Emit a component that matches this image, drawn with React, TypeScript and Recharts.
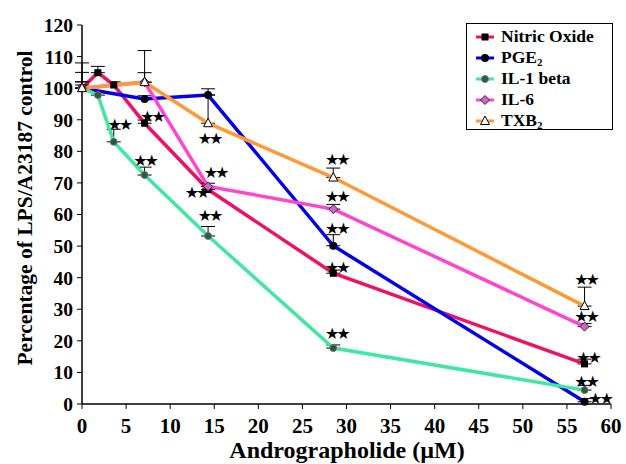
import { LineChart, Line, XAxis, YAxis, ErrorBar } from "recharts";

const DOSES = [0, 1.8, 3.6, 7.1, 14.3, 28.5, 57];

// error bars are drawn upward only: [minus, plus]
const NITRIC_OXIDE = [100, 104.9, 101, 88.9, 67.9, 41.4, 12.7];
const NITRIC_OXIDE_ERR = [[0, 5], [0, 2], [0, 1], [0, 1], [0, 1], [0, 1], [0, 1.5]];
const NITRIC_OXIDE_SIG = [0, 0, 0, 1, 1, 1, 1];

const PGE2 = [100, null, null, 96.6, 97.8, 50.1, 0.7];
const PGE2_ERR = [[0, 1], null, null, [0, 1], [0, 2], [0, 3.5], [0, 1]];
const PGE2_SIG = [0, 0, 0, 0, 0, 1, 1];

const IL1_BETA = [100, 97.8, 83, 72.5, 53.2, 17.7, 4.4];
const IL1_BETA_ERR = [[0, 2], [0, 1], [0, 4], [0, 2.5], [0, 3], [0, 1], [0, 1.5]];
const IL1_BETA_SIG = [0, 0, 1, 1, 1, 1, 1];

const IL6 = [100, null, null, 101.9, 68.9, 61.7, 24.5];
const IL6_ERR = [[0, 2], null, null, [0, 3], [0, 1], [0, 1.5], [0, 1]];
const IL6_SIG = [0, 0, 0, 0, 1, 1, 1];

const TXB2 = [100, null, null, 101.9, 88.9, 71.7, 31];
const TXB2_ERR = [[0, 8], null, null, [0, 10], [0, 9], [0, 3], [0, 6]];
const TXB2_SIG = [0, 0, 0, 0, 1, 1, 1];

const X_TICKS = [0, 5, 10, 15, 20, 25, 30, 35, 40, 45, 50, 55, 60];
const Y_TICKS = [0, 10, 20, 30, 40, 50, 60, 70, 80, 90, 100, 110, 120];

const SERIF = "'Liberation Serif', 'Times New Roman', serif";

type Series = {
  key: string;
  name: string;
  sub?: string;
  color: string;
  marker: string;
  values: (number | null)[];
  err: any[];
  sig: number[];
};

const SERIES: Series[] = [
  { key: "no", name: "Nitric Oxide", color: "#ee1166", marker: "square", values: NITRIC_OXIDE, err: NITRIC_OXIDE_ERR, sig: NITRIC_OXIDE_SIG },
  { key: "pge2", name: "PGE", sub: "2", color: "#0000ee", marker: "circle", values: PGE2, err: PGE2_ERR, sig: PGE2_SIG },
  { key: "il1", name: "IL-1 beta", color: "#3ee8a2", marker: "dot", values: IL1_BETA, err: IL1_BETA_ERR, sig: IL1_BETA_SIG },
  { key: "il6", name: "IL-6", color: "#ff44d0", marker: "diamond", values: IL6, err: IL6_ERR, sig: IL6_SIG },
  { key: "txb2", name: "TXB", sub: "2", color: "#ff9933", marker: "triangle", values: TXB2, err: TXB2_ERR, sig: TXB2_SIG },
];

const rows = DOSES.map((dose, i) => {
  const row: Record<string, any> = { dose };
  SERIES.forEach((s) => {
    row[s.key] = s.values[i];
    row[s.key + "Err"] = s.err[i];
  });
  return row;
});

// where the ★★ sits relative to its point
const STAR_NUDGE: Record<string, [number, number]> = {
  "no-3": [7, -7],
  "no-4": [-12, 3],
  "no-5": [3, -6],
  "no-6": [3, -6],
  "pge2-5": [3, -17],
  "pge2-6": [15, -3],
  "il1-2": [5, -17],
  "il1-3": [0, -15],
  "il1-4": [1, -21],
  "il1-5": [3, -15],
  "il1-6": [1, -9],
  "il6-4": [7, -14],
  "il6-5": [3, -13],
  "il6-6": [1, -10],
  "txb2-4": [1, 15],
  "txb2-5": [3, -18],
  "txb2-6": [1, -27],
};

function Marker({ kind, cx, cy }: { kind: string; cx: number; cy: number }) {
  switch (kind) {
    case "square":
      return <rect x={cx - 3.5} y={cy - 3.5} width={7} height={7} fill="#000" />;
    case "circle":
      return <circle cx={cx} cy={cy} r={4} fill="#000010" />;
    case "dot":
      return <circle cx={cx} cy={cy} r={3.5} fill="#285c40" stroke="#777" strokeWidth={1} />;
    case "diamond":
      return (
        <path
          d={`M${cx} ${cy - 4.5}L${cx + 4.5} ${cy}L${cx} ${cy + 4.5}L${cx - 4.5} ${cy}Z`}
          fill="#c46cc4"
          stroke="#4a1a4a"
          strokeWidth={1}
        />
      );
    default:
      return (
        <path
          d={`M${cx} ${cy - 5}L${cx + 4.5} ${cy + 3.5}L${cx - 4.5} ${cy + 3.5}Z`}
          fill="#fff"
          stroke="#000"
          strokeWidth={1}
        />
      );
  }
}

function renderDot(s: Series) {
  return (props: any) => {
    const { cx, cy, index } = props;
    if (cx == null || cy == null || s.values[index] == null) return <g key={`${s.key}-${index}`} />;
    const nudge = STAR_NUDGE[`${s.key}-${index}`] ?? [0, -14];
    return (
      <g key={`${s.key}-${index}`}>
        <Marker kind={s.marker} cx={cx} cy={cy} />
        {s.sig[index] ? (
          <text
            x={cx + nudge[0]}
            y={cy + nudge[1]}
            dy="0.35em"
            textAnchor="middle"
            fontFamily="'DejaVu Sans', sans-serif"
            fontSize={16}
            letterSpacing={-3}
            fill="#000"
          >
            ★★
          </text>
        ) : null}
      </g>
    );
  };
}

function LegendBox() {
  return (
    <div
      style={{
        position: "absolute",
        left: 466,
        top: 23,
        width: 147,
        height: 107,
        border: "1px solid #000",
        background: "#fff",
        fontFamily: SERIF,
        fontWeight: 700,
        fontSize: 17.5,
        boxSizing: "border-box",
        paddingTop: 2,
      }}
    >
      {SERIES.map((s) => (
        <div key={s.key} style={{ display: "flex", alignItems: "center", height: 21 }}>
          <svg width={34} height={14} style={{ flex: "none" }}>
            <line x1={9} x2={27} y1={7} y2={7} stroke={s.color} strokeWidth={3} />
            <Marker kind={s.marker} cx={18} cy={7} />
          </svg>
          <span style={{ lineHeight: "17px", color: "#000", whiteSpace: "nowrap" }}>
            {s.name}
            {s.sub ? (
              <span style={{ fontSize: 11, position: "relative", top: 3, lineHeight: "11px" }}>{s.sub}</span>
            ) : null}
          </span>
        </div>
      ))}
    </div>
  );
}

const axisTick = { fill: "#000", fontFamily: SERIF, fontWeight: 700 };

export default function App() {
  return (
    <div style={{ position: "absolute", left: 0, top: 0, width: 626, height: 464, background: "#fff" }}>
      <LineChart width={626} height={464} data={rows} margin={{ top: 25, right: 15, left: 0, bottom: 0 }}>
        <XAxis
          type="number"
          dataKey="dose"
          domain={[0, 60]}
          ticks={X_TICKS}
          interval={0}
          height={60}
          tickSize={5}
          tickMargin={9}
          axisLine={{ stroke: "#000", strokeWidth: 1.5 }}
          tickLine={{ stroke: "#000" }}
          tick={{ ...axisTick, fontSize: 21 }}
          label={() => (
            <text x={347} y={458} textAnchor="middle" fontFamily={SERIF} fontWeight={700} fontSize={24} fill="#000">
              Andrographolide (µM)
            </text>
          )}
        />
        <YAxis
          type="number"
          domain={[0, 120]}
          ticks={Y_TICKS}
          interval={0}
          width={82}
          tickSize={5}
          tickMargin={4}
          axisLine={{ stroke: "#000", strokeWidth: 1.5 }}
          tickLine={{ stroke: "#000" }}
          tick={{ ...axisTick, fontSize: 19.5 }}
          label={() => (
            <text
              transform="translate(24 208) rotate(-90)"
              dy="0.35em"
              textAnchor="middle"
              fontFamily={SERIF}
              fontWeight={700}
              fontSize={21.5}
              fill="#000"
            >
              Percentage of LPS/A23187 control
            </text>
          )}
        />
        {SERIES.map((s) => (
          <Line
            key={s.key}
            dataKey={s.key}
            name={s.name}
            type="linear"
            stroke={s.color}
            strokeWidth={3.5}
            connectNulls
            dot={renderDot(s)}
            activeDot={false}
            isAnimationActive={false}
          >
            <ErrorBar dataKey={s.key + "Err"} width={7} stroke="#000" strokeWidth={1} direction="y" />
          </Line>
        ))}
      </LineChart>
      <LegendBox />
    </div>
  );
}
